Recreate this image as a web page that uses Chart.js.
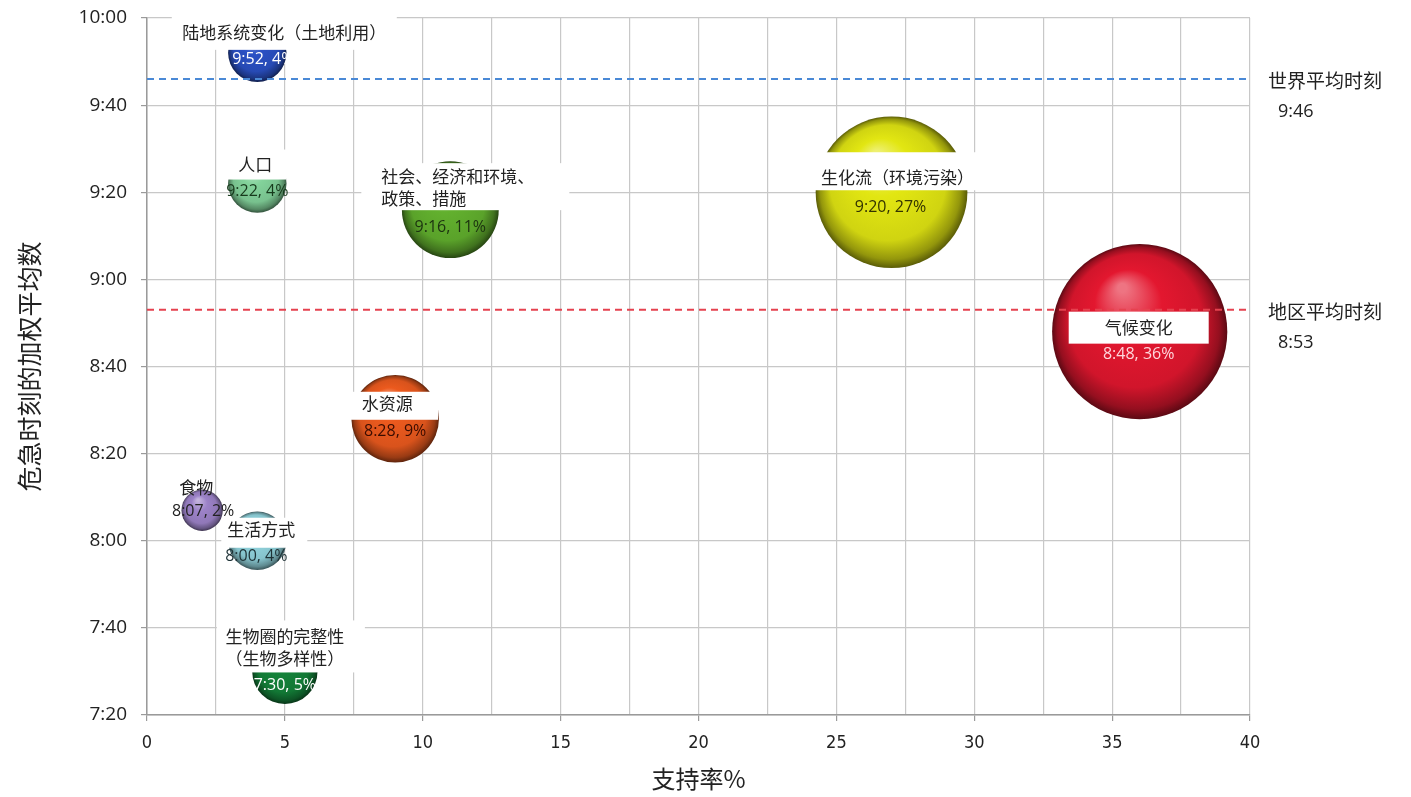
<!DOCTYPE html>
<html lang="zh">
<head>
  <meta charset="UTF-8">
  <title>危急时刻的加权平均数</title>
  <script src="https://cdn.jsdelivr.net/npm/chart.js"></script>
  <style>
    html, body { margin: 0; padding: 0; background: #fff; }
    #wrap { width: 1411px; height: 797px; }
  </style>
</head>
<body>
  <div id="wrap"><canvas id="clockChart"></canvas></div>

  <script>
    // 各领域：支持率(%) 与危急时刻
    const issues = [
      ['陆地系统变化（土地利用）'],
      ['人口'],
      ['社会、经济和环境、', '政策、措施'],
      ['生化流（环境污染）'],
      ['气候变化'],
      ['水资源'],
      ['食物'],
      ['生活方式'],
      ['生物圈的完整性', '（生物多样性）']
    ];
    const support = [4, 4, 11, 27, 36, 9, 2, 4, 5];
    const times = ['9:52', '9:22', '9:16', '9:20', '8:48', '8:28', '8:07', '8:00', '7:30'];
    const colors = ['#2a50c4', '#82d29a', '#62b02e', '#e2e612', '#e3172f', '#ec5a1e', '#9c82c8', '#92d4de', '#14823a'];

    const avgNames = ['世界平均时刻', '地区平均时刻'];
    const avgTimes = ['9:46', '8:53'];
    const avgColors = ['#4a89d6', '#e5424f'];

    const xTicks = [0, 5, 10, 15, 20, 25, 30, 35, 40];
    const yTicks = ['7:20', '7:40', '8:00', '8:20', '8:40', '9:00', '9:20', '9:40', '10:00'];

    const toMin = t => { const [h, m] = t.split(':').map(Number); return h * 60 + m; };
    const cjk = "'Noto Sans CJK SC', sans-serif";

    // 标签框：相对于气泡中心的偏移
    const labelLayout = [
      { box: [27, -20, 225, 34], name: [27, -20], value: [6, 7], vc: '#ffffff' },
      { box: [-2, -19, 62, 30], name: [-2, -19], value: [0, 8], vc: '#173a1c' },
      { box: [15, -23, 208, 47], name: [-69, -22], align: 'left', value: [0, 18], vc: '#1c3210' },
      { box: [7, -21, 175, 38], name: [6, -15], value: [-1, 15], vc: '#333300' },
      { box: [-1, -4, 140, 32], name: [-1, -4], value: [-1, 23], vc: '#ffd6dc' },
      { box: [-2, -13, 90, 28], name: [-8, -15], value: [0, 13], vc: '#3a0c00' },
      { box: null, name: [-6, -23], value: [1, 1], vc: '#222222' },
      { box: [7, -8, 86, 30], name: [4, -11], value: [-1, 16], vc: '#1e3236' },
      { box: [6, -25, 148, 52], name: [0, -24], value: [0, 14], vc: '#ffffff' }
    ];

    function shade(hex, p) {
      const n = parseInt(hex.slice(1), 16);
      let r = n >> 16, g = (n >> 8) & 255, b = n & 255;
      const t = p < 0 ? 0 : 255, a = Math.abs(p);
      r = Math.round(r + (t - r) * a);
      g = Math.round(g + (t - g) * a);
      b = Math.round(b + (t - b) * a);
      return `rgb(${r},${g},${b})`;
    }

    const bubbleScale = 14.6;

    // 球体渐变
    function sphere(c) {
      const chart = c.chart, raw = c.raw;
      const base = colors[c.dataIndex];
      if (!raw || !chart.chartArea) return base;
      const x = chart.scales.x.getPixelForValue(raw.x);
      const y = chart.scales.y.getPixelForValue(raw.y);
      const r = raw.r;
      const g = chart.ctx.createRadialGradient(x - r * 0.2, y - r * 0.5, r * 0.05, x, y, r);
      g.addColorStop(0, shade(base, 0.4));
      g.addColorStop(0.35, base);
      g.addColorStop(0.75, shade(base, -0.08));
      g.addColorStop(0.92, shade(base, -0.35));
      g.addColorStop(1, shade(base, -0.6));
      return g;
    }

    const bubbleData = support.map((s, i) => ({ x: s, y: toMin(times[i]), r: bubbleScale * Math.sqrt(s) }));

    const avgLines = avgTimes.map((t, i) => ({
      type: 'line',
      data: [{ x: xTicks[0], y: toMin(t) }, { x: xTicks[xTicks.length - 1], y: toMin(t) }],
      borderColor: avgColors[i],
      borderDash: [7, 5],
      borderWidth: 2,
      pointRadius: 0,
      clip: false,
      order: 0
    }));

    const labelPlugin = {
      id: 'bubbleLabels',
      afterDatasetsDraw(chart) {
        const ctx = chart.ctx;
        const meta = chart.getDatasetMeta(0);
        ctx.save();
        meta.data.forEach((el, i) => {
          const L = labelLayout[i];
          if (L.box) {
            ctx.fillStyle = '#ffffff';
            ctx.fillRect(el.x + L.box[0] - L.box[2] / 2, el.y + L.box[1] - L.box[3] / 2, L.box[2], L.box[3]);
          }
          const lines = issues[i];
          ctx.fillStyle = '#222222';
          ctx.font = `17px ${cjk}`;
          ctx.textAlign = L.align || 'center';
          ctx.textBaseline = 'middle';
          const lh = 22;
          lines.forEach((ln, k) => {
            const yy = el.y + L.name[1] + (k - (lines.length - 1) / 2) * lh;
            ctx.fillText(ln, el.x + L.name[0], yy);
          });
          ctx.textAlign = 'center';
          ctx.font = "16px 'Open Sans', sans-serif";
          ctx.fillStyle = L.vc;
          ctx.fillText(`${times[i]}, ${support[i]}%`, el.x + L.value[0], el.y + L.value[1]);
        });

        // 平均时刻标注
        const ys = chart.scales.y;
        const right = chart.chartArea.right;
        avgTimes.forEach((t, i) => {
          const y = ys.getPixelForValue(toMin(t));
          ctx.fillStyle = '#222222';
          ctx.textAlign = 'left';
          ctx.font = `19px ${cjk}`;
          ctx.fillText(avgNames[i], right + 18, y + 2);
          ctx.font = "18px 'Open Sans', sans-serif";
          ctx.fillText(t, right + 28, y + 33);
        });
        ctx.restore();
      }
    };

    const ctx = document.getElementById('clockChart').getContext('2d');
    const clockChart = new Chart(ctx, {
      type: 'bubble',
      data: {
        datasets: [{
          label: '支持率',
          data: bubbleData,
          backgroundColor: sphere,
          borderWidth: 0,
          clip: false,
          order: 1
        }, ...avgLines]
      },
      options: {
        responsive: true,
        maintainAspectRatio: false,
        animation: false,
        events: [],
        layout: { autoPadding: false, padding: { top: 0, right: 161, left: 0, bottom: 0 } },
        plugins: {
          legend: { display: false },
          tooltip: { enabled: false }
        },
        scales: {
          x: {
            type: 'linear',
            min: xTicks[0],
            max: xTicks[xTicks.length - 1],
            afterFit: s => { s.height = 82; },
            grid: {
              color: '#c8c8c8',
              lineWidth: 1.2,
              tickLength: 6,
              tickColor: c => (xTicks.includes(c.tick.value) ? '#9a9a9a' : 'rgba(0,0,0,0)')
            },
            border: { color: '#9a9a9a', width: 1.5 },
            ticks: {
              stepSize: 2.5,
              autoSkip: false,
              maxRotation: 0,
              padding: 12,
              color: '#222222',
              font: { family: "'Liberation Sans Narrow', 'DejaVu Sans Condensed', Roboto, sans-serif", size: 18 },
              callback: v => (xTicks.includes(v) ? String(v) : '')
            },
            title: {
              display: true,
              text: '支持率%',
              color: '#222222',
              font: { family: cjk, size: 24 },
              padding: { top: 0, bottom: 4 }
            }
          },
          y: {
            type: 'linear',
            min: toMin(yTicks[0]),
            max: toMin(yTicks[yTicks.length - 1]),
            afterFit: s => { s.width = 147; s.paddingTop = 18; s.paddingBottom = 0; },
            grid: { color: '#c8c8c8', lineWidth: 1.2, tickLength: 6, tickColor: '#9a9a9a' },
            border: { color: '#9a9a9a', width: 1.5 },
            ticks: {
              stepSize: 20,
              padding: 14,
              color: '#222222',
              font: { family: "'Open Sans', sans-serif", size: 19 },
              callback: (v, i) => yTicks[i]
            },
            title: {
              display: true,
              text: '危急时刻的加权平均数',
              color: '#222222',
              font: { family: cjk, size: 25 },
              padding: { top: 14, bottom: 0 }
            }
          }
        }
      },
      plugins: [labelPlugin]
    });
  </script>
</body>
</html>
